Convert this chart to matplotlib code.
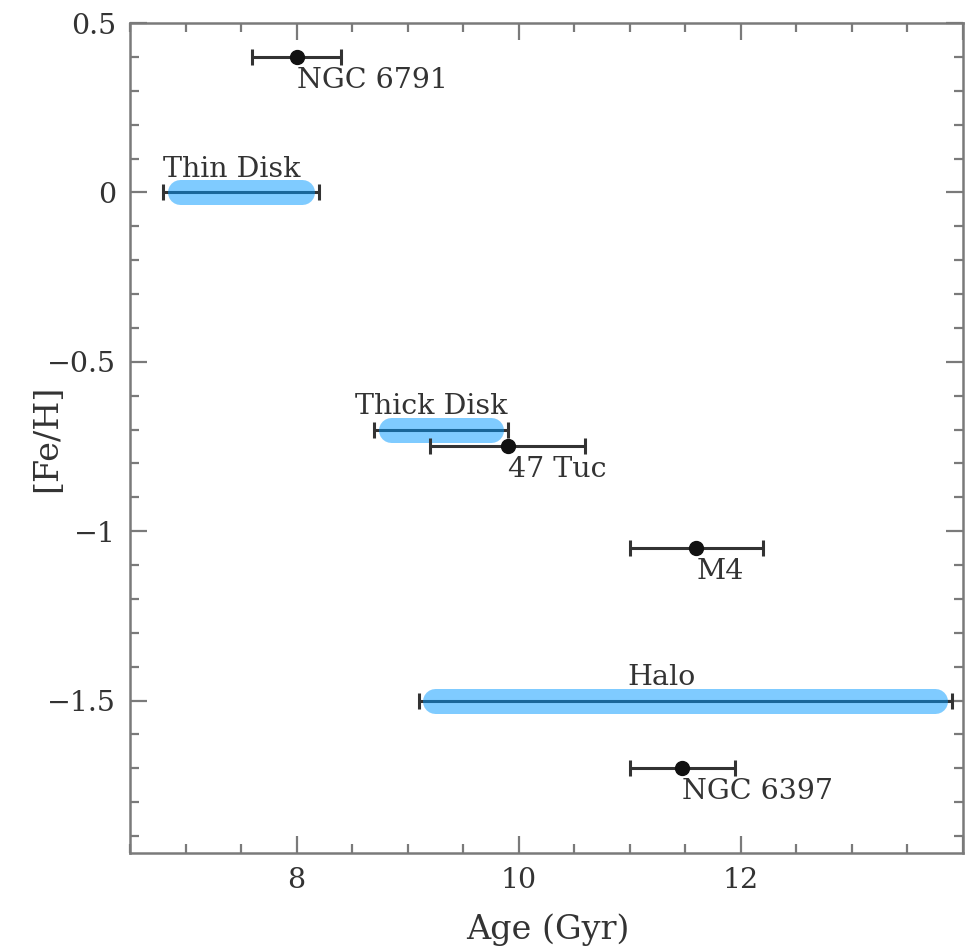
import matplotlib
matplotlib.use("Agg")
import matplotlib.pyplot as plt
from matplotlib.ticker import MultipleLocator, FuncFormatter
import numpy as np

# ---- data ----
pop_names = ["Thin Disk", "Thick Disk", "Halo"]
pop_age_lo = [6.8, 8.7, 9.1]
pop_age_hi = [8.2, 9.9, 13.9]
pop_feh = [0.0, -0.7, -1.5]

cl_names = ["NGC 6791", "47 Tuc", "M4", "NGC 6397"]
cl_age = [8.0, 9.9, 11.6, 11.47]
cl_err_lo = [0.4, 0.7, 0.6, 0.47]
cl_err_hi = [0.4, 0.7, 0.6, 0.48]
cl_feh = [0.40, -0.75, -1.05, -1.70]

# ---- style ----
plt.rcParams['font.family'] = ['DejaVu Serif']
TXT = '#333333'
AX = '#7a7a7a'
fs = 20.5

fig = plt.figure(figsize=(9.77, 9.51), dpi=100)
ax = fig.add_axes([130/977, 1-853/951, (963-130)/977, (853-23)/951])
ax.set_xlim(6.5, 14.0)
ax.set_ylim(-1.95, 0.5)

for s in ax.spines.values():
    s.set_color(AX)
    s.set_linewidth(1.8)

def xfmt(v, pos):
    if v < 7 or v > 13:
        return ''
    return '%d' % round(v)

def yfmt(v, pos):
    s = ('%g' % round(v, 2))
    return s.replace('-', '\u2212')

ax.xaxis.set_major_locator(MultipleLocator(2))
ax.xaxis.set_minor_locator(MultipleLocator(0.5))
ax.yaxis.set_major_locator(MultipleLocator(0.5))
ax.yaxis.set_minor_locator(MultipleLocator(0.1))
ax.xaxis.set_major_formatter(FuncFormatter(xfmt))
ax.yaxis.set_major_formatter(FuncFormatter(yfmt))
ax.tick_params(which='both', direction='in', top=True, right=True, color=AX,
               width=1.6, labelcolor=TXT, labelsize=fs)
ax.tick_params(which='major', length=12)
ax.tick_params(which='minor', length=6.5)
ax.tick_params(axis='x', which='major', pad=10)
ax.tick_params(axis='y', which='major', pad=10)

fig.text(548/977, 1-930/951, "Age (Gyr)", fontsize=24, color=TXT,
         ha='center', va='center')
fig.text(47/977, 1-438/951, "[Fe/H]", fontsize=24, color=TXT,
         ha='center', va='center', rotation=90)

ERR = '#333333'
# population bars
lw_blue = 18
for name, lo, hi, y in zip(pop_names, pop_age_lo, pop_age_hi, pop_feh):
    c = (lo + hi) / 2
    ax.errorbar([c], [y], xerr=[[c - lo], [hi - c]], fmt='none', ecolor=ERR,
                elinewidth=2.2, capsize=6, capthick=2.2, zorder=2)
    # round-capped blue band, ends pulled inside the caps
    p0 = ax.transData.transform((lo, y))
    p1 = ax.transData.transform((hi, y))
    shrink = lw_blue * 100 / 72 / 2 + 4
    q0 = ax.transData.inverted().transform((p0[0] + shrink, p0[1]))
    q1 = ax.transData.inverted().transform((p1[0] - shrink, p1[1]))
    ax.plot([q0[0], q1[0]], [y, y], color='#0099ff', alpha=0.5, lw=lw_blue,
            solid_capstyle='round', zorder=3)

# population labels
ax.annotate(pop_names[0], (pop_age_lo[0], pop_feh[0]), xytext=(0, 11),
            textcoords='offset points', ha='left', va='baseline', fontsize=fs, color=TXT)
ax.annotate(pop_names[1], (pop_age_lo[1], pop_feh[1]), xytext=(-14, 11),
            textcoords='offset points', ha='left', va='baseline', fontsize=fs, color=TXT)
ax.annotate(pop_names[2], ((pop_age_lo[2] + pop_age_hi[2]) / 2, pop_feh[2]), xytext=(-17, 11),
            textcoords='offset points', ha='center', va='baseline', fontsize=fs, color=TXT)

# clusters
for name, x, el, eh, y in zip(cl_names, cl_age, cl_err_lo, cl_err_hi, cl_feh):
    ax.errorbar([x], [y], xerr=[[el], [eh]], fmt='o', color='#111111', ms=10,
                ecolor=ERR, elinewidth=2.2, capsize=6, capthick=2.2, zorder=4)
    ax.annotate(name, (x, y), xytext=(0, -7), textcoords='offset points',
                ha='left', va='top', fontsize=fs, color=TXT)

fig.savefig("out.png", dpi=100)
